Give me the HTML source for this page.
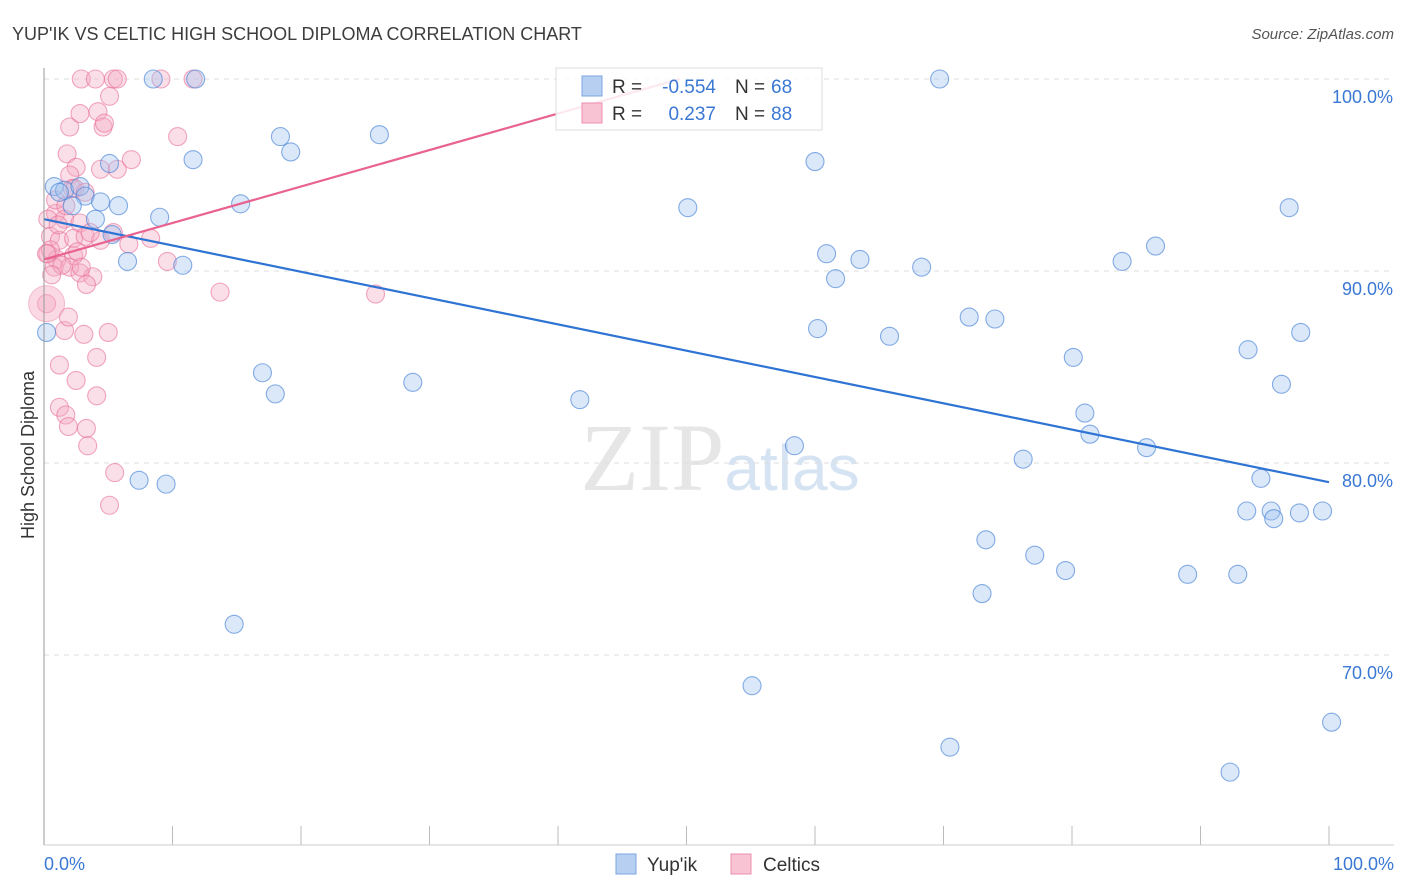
<!DOCTYPE html>
<html><head><meta charset="utf-8"><style>
body{margin:0;background:#fff;font-family:"Liberation Sans",sans-serif}
svg{display:block}
</style></head><body>
<svg id="chart" width="1406" height="892" xmlns="http://www.w3.org/2000/svg">
<text x="12" y="40" font-size="18" fill="#3d3d3d">YUP'IK VS CELTIC HIGH SCHOOL DIPLOMA CORRELATION CHART</text>
<text x="1394" y="39" font-size="15" fill="#555" font-style="italic" text-anchor="end">Source: ZipAtlas.com</text>
<text x="34" y="455" font-size="18" fill="#333" text-anchor="middle" transform="rotate(-90 34 455)">High School Diploma</text>
<text x="720" y="490" font-size="96" fill="#e6e6e6" text-anchor="middle" font-family="Liberation Serif,serif">ZIP<tspan fill="#d6e3f3" font-family="Liberation Sans,sans-serif" font-size="64">atlas</tspan></text>
<g id="grid"></g><g id="pts"></g><g id="lines"></g>
<line x1="44" y1="68" x2="44" y2="845" stroke="#999"/>
<line x1="44" y1="845" x2="1394" y2="845" stroke="#ccc"/>
<text x="44" y="870" font-size="18" fill="#3a78d4">0.0%</text>
<text x="1394" y="870" font-size="18" fill="#3a78d4" text-anchor="end">100.0%</text>
<g>
<rect x="556" y="68" width="266" height="62" fill="#fff" fill-opacity="0.85" stroke="#ddd"/>
<rect x="582" y="76" width="20" height="20" fill="#b7d0f2" stroke="#7aa6e0"/>
<rect x="582" y="103" width="20" height="20" fill="#f8c3d3" stroke="#ec8fae"/>
<text x="612" y="93" font-size="19" fill="#333">R =</text>
<text x="716" y="93" font-size="19" fill="#3a78d4" text-anchor="end">-0.554</text>
<text x="735" y="93" font-size="19" fill="#333">N =</text>
<text x="771" y="93" font-size="19" fill="#3a78d4">68</text>
<text x="612" y="120" font-size="19" fill="#333">R =</text>
<text x="716" y="120" font-size="19" fill="#3a78d4" text-anchor="end">0.237</text>
<text x="735" y="120" font-size="19" fill="#333">N =</text>
<text x="771" y="120" font-size="19" fill="#3a78d4">88</text>
</g>
<g>
<rect x="616" y="854" width="20" height="20" fill="#b7d0f2" stroke="#7aa6e0"/>
<text x="647" y="871" font-size="19" fill="#333">Yup'ik</text>
<rect x="731" y="854" width="20" height="20" fill="#f8c3d3" stroke="#ec8fae"/>
<text x="763" y="871" font-size="19" fill="#333">Celtics</text>
</g>
</svg>
<script>
const yTicks=[100,90,80,70];
const xTickVals=[0,10,20,30,40,50,60,70,80,90,100];
const yupikX=[0.8,1.6,2.8,3.2,4.4,5.8,4.0,5.3,5.1,6.5,8.5,9.0,10.8,11.6,11.8,15.3,18.4,19.2,17.0,18.0,14.8,7.4,9.5,26.1,28.7,41.7,50.1,55.1,58.4,60.0,60.2,60.9,61.6,63.5,65.8,68.3,69.7,70.5,72.0,74.0,73.3,73.0,76.2,77.1,79.5,80.1,81.0,81.4,83.9,85.8,86.5,89.0,92.3,92.9,93.6,93.7,94.7,95.5,95.7,96.3,96.9,97.7,97.8,99.5,100.2,0.2,2.2,1.2];
const yupikY=[94.4,94.2,94.4,93.9,93.6,93.4,92.7,91.9,95.6,90.5,100,92.8,90.3,95.8,100,93.5,97.0,96.2,84.7,83.6,71.6,79.1,78.9,97.1,84.2,83.3,93.3,68.4,80.9,95.7,87.0,90.9,89.6,90.6,86.6,90.2,100,65.2,87.6,87.5,76.0,73.2,80.2,75.2,74.4,85.5,82.6,81.5,90.5,80.8,91.3,74.2,63.9,74.2,77.5,85.9,79.2,77.5,77.1,84.1,93.3,77.4,86.8,77.5,66.5,86.8,93.4,94.1];
const celticX=[2.9,4.0,5.4,5.7,9.1,11.6,5.1,2.0,2.8,4.2,4.6,4.7,1.8,2.5,4.4,5.7,6.8,10.4,2.0,2.2,2.4,0.9,0.3,1.6,2.8,0.5,1.2,2.3,3.2,4.4,5.4,8.3,0.3,1.0,2.3,0.8,2.0,2.8,3.8,3.3,9.6,13.7,25.8,0.2,1.6,1.9,3.1,5.0,4.1,1.2,2.5,4.1,1.2,1.7,1.9,3.3,3.4,5.5,5.1,6.6,0.5,1.4,3.2,0.9,1.7,2.6,2.9,3.6,0.2,0.6,1.1];
const celticY=[100,100,100,100,100,100,99.1,97.5,98.2,98.3,97.5,97.7,96.1,95.4,95.3,95.3,95.8,97.0,95.0,94.3,94.3,93.0,92.7,92.7,92.5,91.8,91.6,91.7,91.8,91.6,92.0,91.7,90.9,90.6,90.8,90.2,90.2,89.9,89.7,89.3,90.5,88.9,88.8,88.3,86.9,87.6,86.7,86.8,85.5,85.1,84.3,83.5,82.9,82.5,81.9,81.8,80.9,79.5,77.8,91.4,91.1,90.3,94.1,93.7,93.4,91.0,90.2,92.0,90.9,89.8,92.4];
const blueLine=[92.7,79.0];
const pinkLine=[90.6,109.6];
const X=v=>44+v*12.85, Y=v=>79+(100-v)*19.2;
const NS="http://www.w3.org/2000/svg";
function mk(t,a,p){const e=document.createElementNS(NS,t);for(const k in a)e.setAttribute(k,a[k]);p.appendChild(e);return e;}
const grid=document.getElementById('grid');
yTicks.forEach(v=>{
 const l=mk('line',{x1:44,x2:1394,y1:Y(v),y2:Y(v),stroke:'#ddd','stroke-dasharray':'5,5'},grid);
 
 
 const t=mk('text',{x:1393,y:Y(v)+24,'font-size':18,fill:'#3a78d4','text-anchor':'end'},grid);
 t.textContent=v.toFixed(1)+'%';
 
 
});
xTickVals.forEach(v=>{
 const l=mk('line',{x1:X(v),x2:X(v),y1:826,y2:845,stroke:'#bbb'},grid);
 
 
});
const pts=document.getElementById('pts');
celticX.forEach((x,i)=>{
 const c=mk('circle',{cx:X(x),cy:Y(celticY[i]),r:9,fill:'rgba(245,170,195,0.38)',stroke:'rgba(232,110,150,0.6)','stroke-width':1.1},pts);
 
 
});
const big=mk('circle',{cx:X(0.2),cy:Y(88.3),r:18,fill:'rgba(245,170,195,0.45)',stroke:'rgba(232,110,150,0.4)'},pts);


yupikX.forEach((x,i)=>{
 const c=mk('circle',{cx:X(x),cy:Y(yupikY[i]),r:9,fill:'rgba(160,195,240,0.38)',stroke:'rgba(70,130,215,0.65)','stroke-width':1.1},pts);
 
 
});
const lines=document.getElementById('lines');
const bl=mk('line',{x1:X(0),y1:Y(blueLine[0]),x2:X(100),y2:Y(blueLine[1]),stroke:'#2f74d4','stroke-width':2.2},lines);


const xe=(100-pinkLine[0])/(pinkLine[1]-pinkLine[0])*100;
const pl=mk('line',{x1:X(0),y1:Y(pinkLine[0]),x2:X(xe),y2:Y(100),stroke:'#e8638f','stroke-width':2.2},lines);


</script>
</body></html>
